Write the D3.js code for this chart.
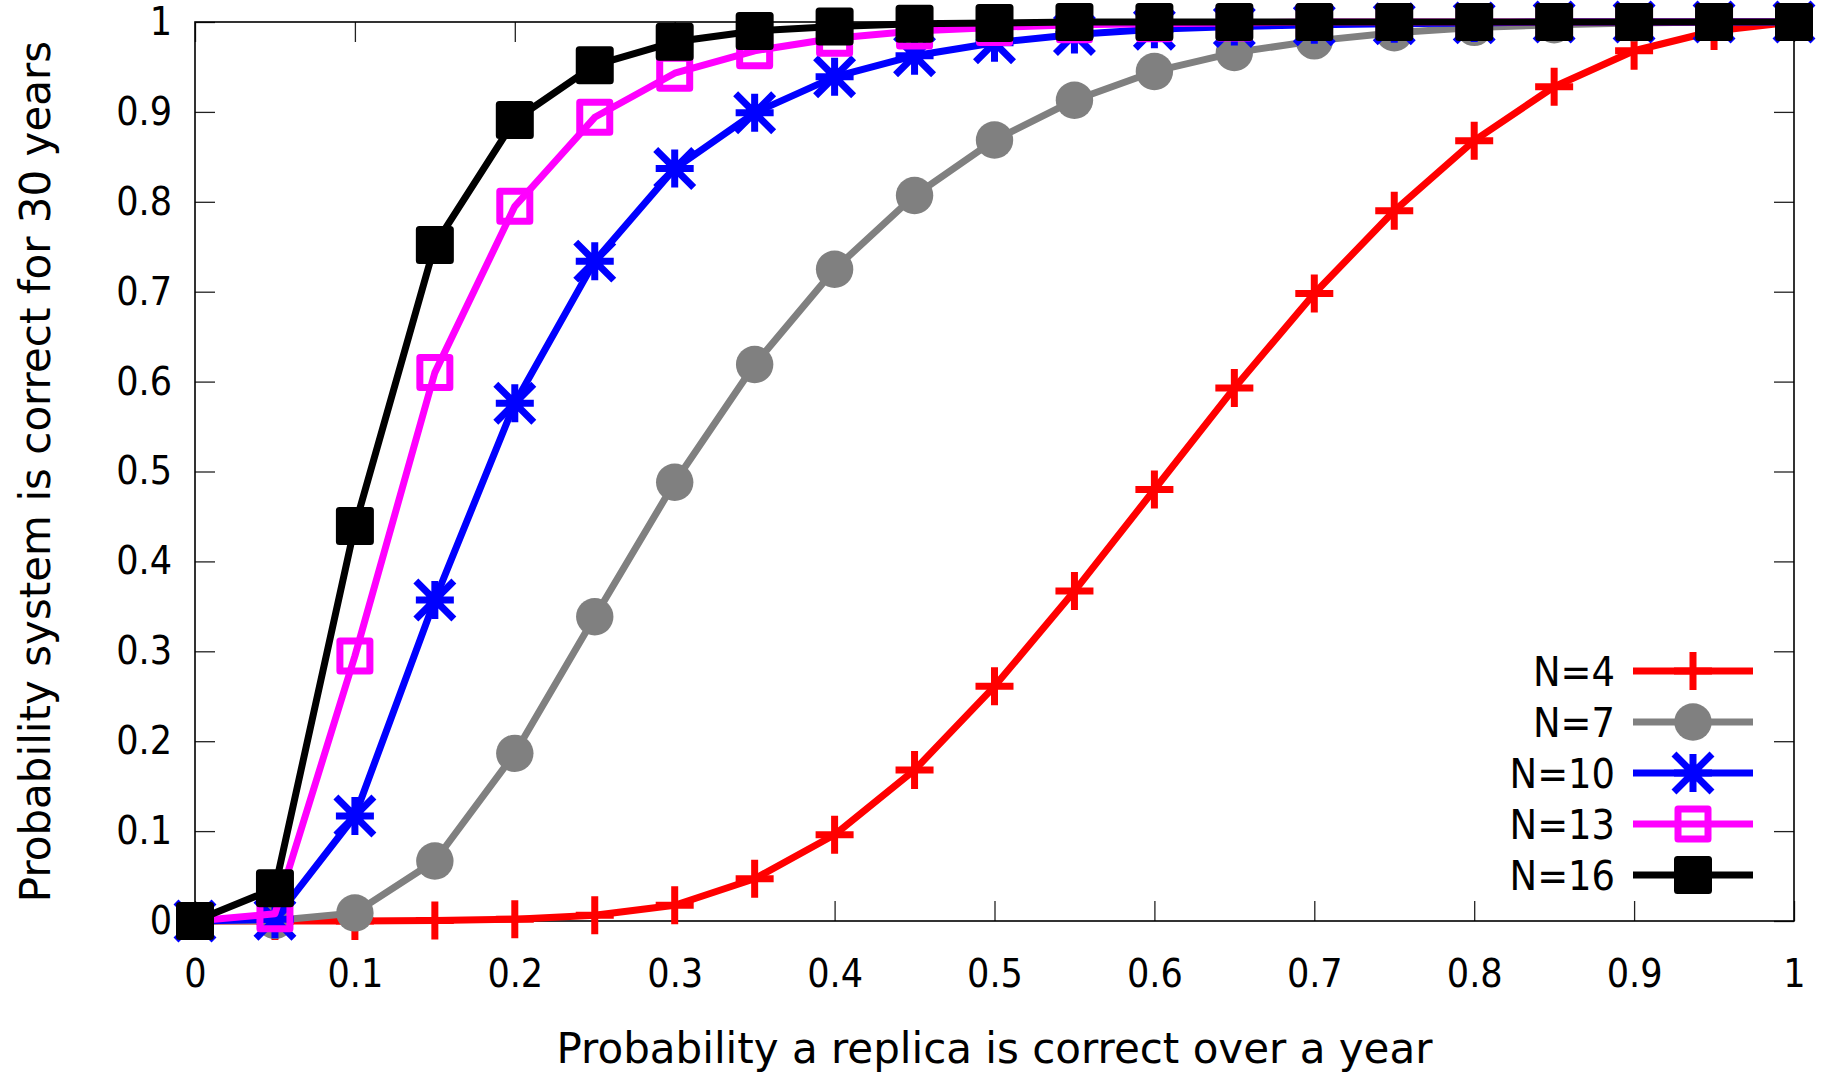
<!DOCTYPE html>
<meta charset="utf-8">
<script src="https://d3js.org/d3.v7.min.js"></script>
<style>
  body { margin: 0; background: #fff; }
  text { font-family: "DejaVu Sans", sans-serif; fill: #000; }
  .axis-title { font-size: 42px; }
  .legend-label { font-family: "DejaVu Sans Condensed", "DejaVu Sans", sans-serif; font-size: 41px; }
</style>
<div id="chart"></div>
<script>
// x values: probability a replica is correct over a year
const xValues = [0, 0.05, 0.1, 0.15, 0.2, 0.25, 0.3, 0.35, 0.4, 0.45, 0.5,
                 0.55, 0.6, 0.65, 0.7, 0.75, 0.8, 0.85, 0.9, 0.95, 1];

// one array per curve
const n4  = [0, 0, 0.0001, 0.0005, 0.002, 0.0065, 0.0175, 0.047, 0.096, 0.168, 0.261,
             0.367, 0.480, 0.593, 0.698, 0.790, 0.868, 0.928, 0.968, 0.990, 1];
const n7  = [0, 0.0005, 0.009, 0.0667, 0.1865, 0.3385, 0.488, 0.619, 0.725, 0.807, 0.8687,
             0.913, 0.945, 0.966, 0.979, 0.988, 0.994, 0.997, 0.999, 1, 1];
const n10 = [0, 0.002, 0.1168, 0.357, 0.576, 0.734, 0.837, 0.899, 0.939, 0.9625, 0.977,
             0.986, 0.992, 0.995, 0.997, 0.998, 0.999, 1, 1, 1, 1];
const n13 = [0, 0.008, 0.2947, 0.61, 0.795, 0.894, 0.943, 0.968, 0.982, 0.990, 0.994,
             0.997, 0.998, 0.999, 1, 1, 1, 1, 1, 1, 1];
const n16 = [0, 0.0363, 0.4394, 0.752, 0.891, 0.952, 0.978, 0.990, 0.995, 0.998, 0.999,
             1, 1, 1, 1, 1, 1, 1, 1, 1, 1];

const seriesNames = ["N=4", "N=7", "N=10", "N=13", "N=16"];
const seriesValues = [n4, n7, n10, n13, n16];
const seriesColors = ["#ff0000", "#808080", "#0000ff", "#ff00ff", "#000000"];
const seriesMarkers = ["plus", "circle", "star", "openSquare", "filledSquare"];

const xTicks = [0, 0.1, 0.2, 0.3, 0.4, 0.5, 0.6, 0.7, 0.8, 0.9, 1];
const yTicks = [0, 0.1, 0.2, 0.3, 0.4, 0.5, 0.6, 0.7, 0.8, 0.9, 1];

const xTitle = "Probability a replica is correct over a year";
const yTitle = "Probability system is correct for 30 years";

// layout
const W = 1821, H = 1073;
const margin = {top: 22, right: 27, bottom: 152, left: 195};
const width = W - margin.left - margin.right,
      height = H - margin.top - margin.bottom;
const lw = 7, tickLen = 20, half = 19;

const svg = d3.select("#chart").append("svg")
    .attr("width", W).attr("height", H);
svg.append("rect").attr("width", W).attr("height", H).attr("fill", "#fff");

const g = svg.append("g").attr("transform", `translate(${margin.left},${margin.top})`);

const x = d3.scaleLinear().domain([0, 1]).range([0, width]);
const y = d3.scaleLinear().domain([0, 1]).range([height, 0]);

const fmt = d => (d === 0 || d === 1) ? String(d) : d.toFixed(1);

// ticks, mirrored on all four sides, pointing inward
g.append("g").attr("transform", `translate(0,${height})`)
  .call(d3.axisBottom(x).tickValues(xTicks).tickSizeInner(-tickLen).tickSizeOuter(0).tickFormat(fmt).tickPadding(38))
  .call(a => a.select(".domain").remove());
g.append("g")
  .call(d3.axisTop(x).tickValues(xTicks).tickSizeInner(-tickLen).tickSizeOuter(0).tickFormat(""))
  .call(a => a.select(".domain").remove());
g.append("g")
  .call(d3.axisLeft(y).tickValues(yTicks).tickSizeInner(-tickLen).tickSizeOuter(0).tickFormat(fmt).tickPadding(23))
  .call(a => a.select(".domain").remove());
g.append("g").attr("transform", `translate(${width},0)`)
  .call(d3.axisRight(y).tickValues(yTicks).tickSizeInner(-tickLen).tickSizeOuter(0).tickFormat(""))
  .call(a => a.select(".domain").remove());

g.selectAll(".tick line").attr("stroke", "#222").attr("stroke-width", 1.3);
g.selectAll(".tick text").attr("fill", "#000")
  .style("font-family", '"DejaVu Sans Condensed", "DejaVu Sans", sans-serif').style("font-size", "39px");

// border
g.append("rect").attr("width", width).attr("height", height)
  .attr("fill", "none").attr("stroke", "#000").attr("stroke-width", 1.6);

// marker shapes
function drawMarker(sel, type, color) {
  if (type === "plus") {
    sel.append("path").attr("d", `M${-half},0H${half}M0,${-half}V${half}`)
      .attr("stroke", color).attr("stroke-width", lw).attr("fill", "none");
  } else if (type === "circle") {
    sel.append("circle").attr("r", 18.7).attr("fill", color);
  } else if (type === "star") {
    sel.append("path")
      .attr("d", `M${-half},0H${half}M0,${-half}V${half}M${-half},${-half}L${half},${half}M${-half},${half}L${half},${-half}`)
      .attr("stroke", color).attr("stroke-width", lw).attr("fill", "none");
  } else if (type === "openSquare") {
    sel.append("rect").attr("x", -15).attr("y", -15).attr("width", 30).attr("height", 30)
      .attr("fill", "none").attr("stroke", color).attr("stroke-width", lw)
      .attr("stroke-linejoin", "round");
  } else {
    sel.append("rect").attr("x", -15.5).attr("y", -15.5).attr("width", 31).attr("height", 31)
      .attr("fill", color).attr("stroke", color).attr("stroke-width", lw)
      .attr("stroke-linejoin", "round");
  }
}

const line = d3.line().x(d => x(d[0])).y(d => y(d[1]));

seriesValues.forEach((vals, i) => {
  const pts = xValues.map((xv, j) => [xv, vals[j]]);
  const sg = g.append("g");
  sg.append("path").datum(pts).attr("d", line)
    .attr("fill", "none").attr("stroke", seriesColors[i]).attr("stroke-width", lw)
    .attr("stroke-linejoin", "round");
  sg.selectAll("g.pt").data(pts).join("g").attr("class", "pt")
    .attr("transform", d => `translate(${x(d[0])},${y(d[1])})`)
    .each(function() { drawMarker(d3.select(this), seriesMarkers[i], seriesColors[i]); });
});

// legend
const legend = svg.append("g").attr("transform", "translate(1613,671)");
seriesNames.forEach((name, i) => {
  const row = legend.append("g").attr("transform", `translate(0,${i * 51})`);
  row.append("text").attr("class", "legend-label").attr("x", 2).attr("y", 0)
    .attr("dy", "0.36em").attr("text-anchor", "end").text(name);
  row.append("line").attr("x1", 20).attr("x2", 140).attr("y1", 0).attr("y2", 0)
    .attr("stroke", seriesColors[i]).attr("stroke-width", lw);
  const m = row.append("g").attr("transform", "translate(80,0)");
  drawMarker(m, seriesMarkers[i], seriesColors[i]);
});

// axis titles
svg.append("text").attr("class", "axis-title")
  .attr("x", margin.left + width / 2).attr("y", 1063)
  .attr("text-anchor", "middle").text(xTitle);
svg.append("text").attr("class", "axis-title")
  .attr("transform", `translate(50,${margin.top + height / 2}) rotate(-90)`)
  .attr("text-anchor", "middle").text(yTitle);
</script>
